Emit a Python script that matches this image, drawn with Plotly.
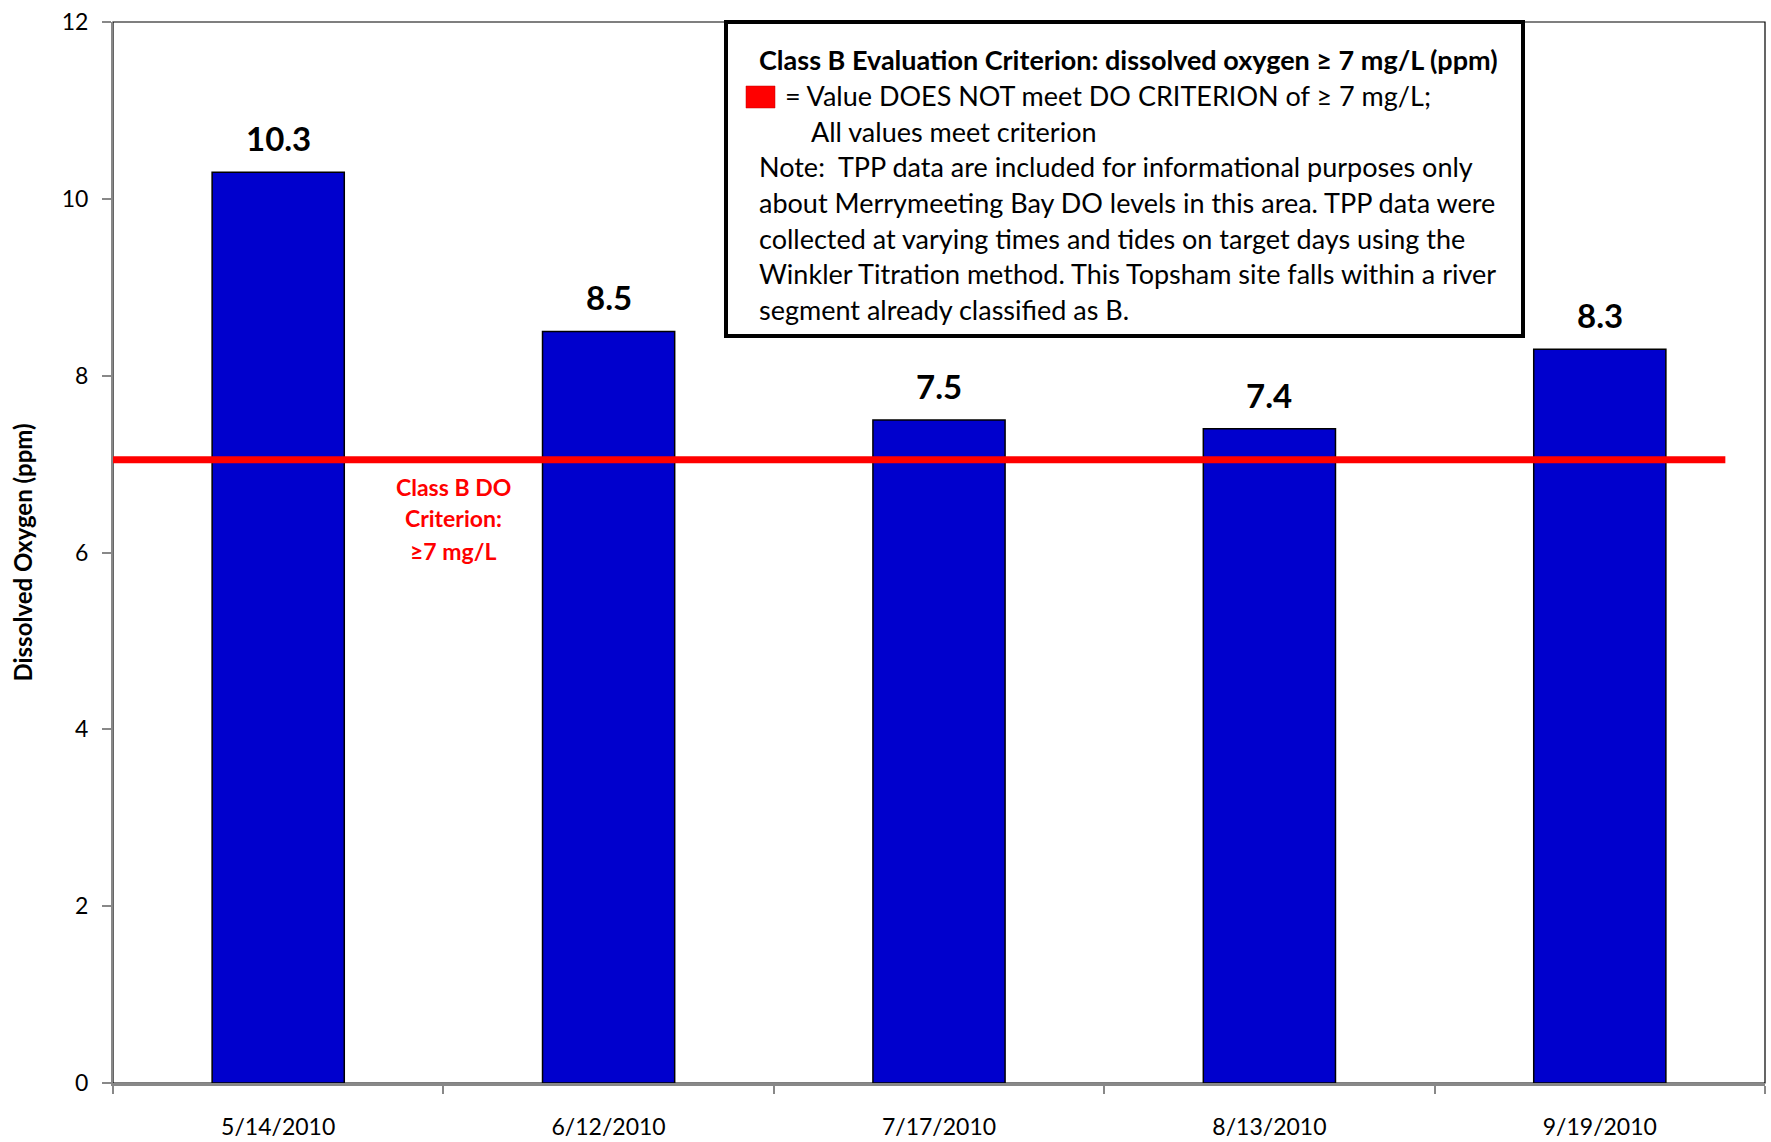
import plotly.graph_objects as go

dates = ["5/14/2010", "6/12/2010", "7/17/2010", "8/13/2010", "9/19/2010"]
do_values = [10.3, 8.5, 7.5, 7.4, 8.3]
criterion = 7.05
y_ticks = [0, 2, 4, 6, 8, 10, 12]

box_title = "Class B Evaluation Criterion: dissolved oxygen \u2265 7 mg/L (ppm)"
box_legend = "= Value DOES NOT meet DO CRITERION of \u2265 7 mg/L;"
box_status = "All values meet criterion"
box_note = [
    "Note:  TPP data are included for informational purposes only",
    "about Merrymeeting Bay DO levels in this area. TPP data were",
    "collected at varying times and tides on target days using the",
    "Winkler Titration method. This Topsham site falls within a river",
    "segment already classified as B.",
]
crit_label = ["Class B DO", "Criterion:", "\u22657 mg/L"]

W, H = 1771, 1142
L, R, T, B = 113, 6, 22, 59
PW, PH = W - L - R, H - T - B
FONT = "Lato"


def px(x):
    return (x - L) / PW


def py(y):
    return (H - B - y) / PH


fig = go.Figure()
fig.add_trace(go.Bar(
    x=dates, y=do_values,
    marker=dict(color="#0000CD", line=dict(color="black", width=1.5)),
    width=0.4,
))

# criterion line
fig.add_shape(type="line", xref="x", yref="y", x0=-0.5, x1=4.38,
              y0=criterion, y1=criterion, line=dict(color="#FF0000", width=7))

# plot border
fig.add_shape(type="rect", xref="paper", yref="paper", x0=0, x1=1, y0=0, y1=1,
              line=dict(color="black", width=1.2), layer="below")

ann = []
for d, v in zip(dates, do_values):
    ann.append(dict(x=d, y=v, xref="x", yref="y", text="<b>%s</b>" % v,
                    showarrow=False, yanchor="middle", yshift=34,
                    font=dict(family=FONT, size=33, color="black")))

for i, (t, yy) in enumerate(zip(crit_label, [487, 518, 551])):
    ann.append(dict(x=px(453), y=py(yy), xref="paper", yref="paper",
                    text="<b>%s</b>" % t, showarrow=False,
                    xanchor="center", yanchor="middle",
                    font=dict(family=FONT, size=23, color="#FF0000")))

# text box
fig.add_shape(type="rect", xref="paper", yref="paper",
              x0=px(726), x1=px(1523), y0=py(336), y1=py(22),
              line=dict(color="black", width=4), fillcolor="white")
fig.add_shape(type="rect", xref="paper", yref="paper",
              x0=px(746), x1=px(775), y0=py(108), y1=py(86),
              line=dict(color="#C00000", width=0.5), fillcolor="#FF0000")

box_fs = 27
lines = [(757, 59, "<b>%s</b>" % box_title),
         (783, 95, box_legend),
         (809, 131, box_status)]
for k, t in enumerate(box_note):
    lines.append((757, 167 + k * 35.6, t))
for x0, y0, t in lines:
    ann.append(dict(x=px(x0), y=py(y0), xref="paper", yref="paper", text=t,
                    showarrow=False, xanchor="left", yanchor="middle",
                    font=dict(family=FONT, size=box_fs, color="black")))

fig.update_layout(
    width=W, height=H,
    margin=dict(l=L, r=R, t=T, b=B, pad=0),
    paper_bgcolor="white", plot_bgcolor="white",
    showlegend=False,
    annotations=ann,
    font=dict(family=FONT, color="black"),
    xaxis=dict(type="category", range=[-0.5, 4.5], showgrid=False,
               automargin=False,
               showline=True, linecolor="#888888", linewidth=2.5,
               ticks="outside", tickson="boundaries", ticklen=8,
               tickcolor="#888888", tickwidth=1.5, ticklabelstandoff=22,
               tickfont=dict(family=FONT, size=23, color="black")),
    yaxis=dict(range=[0, 12], tickvals=y_ticks, showgrid=False, zeroline=False,
               automargin=False,
               showline=True, linecolor="#888888", linewidth=2,
               ticks="outside", ticklen=9, tickcolor="#888888", tickwidth=1.5,
               ticklabelstandoff=9,
               tickfont=dict(family=FONT, size=23, color="black"),
               title=dict(text="<b>Dissolved Oxygen (ppm)</b>", standoff=22,
                          font=dict(family=FONT, size=24, color="black"))),
)

fig.write_html("out.html", config={"displayModeBar": False},
               post_script="document.body.style.margin='0';document.body.style.overflow='hidden';")
